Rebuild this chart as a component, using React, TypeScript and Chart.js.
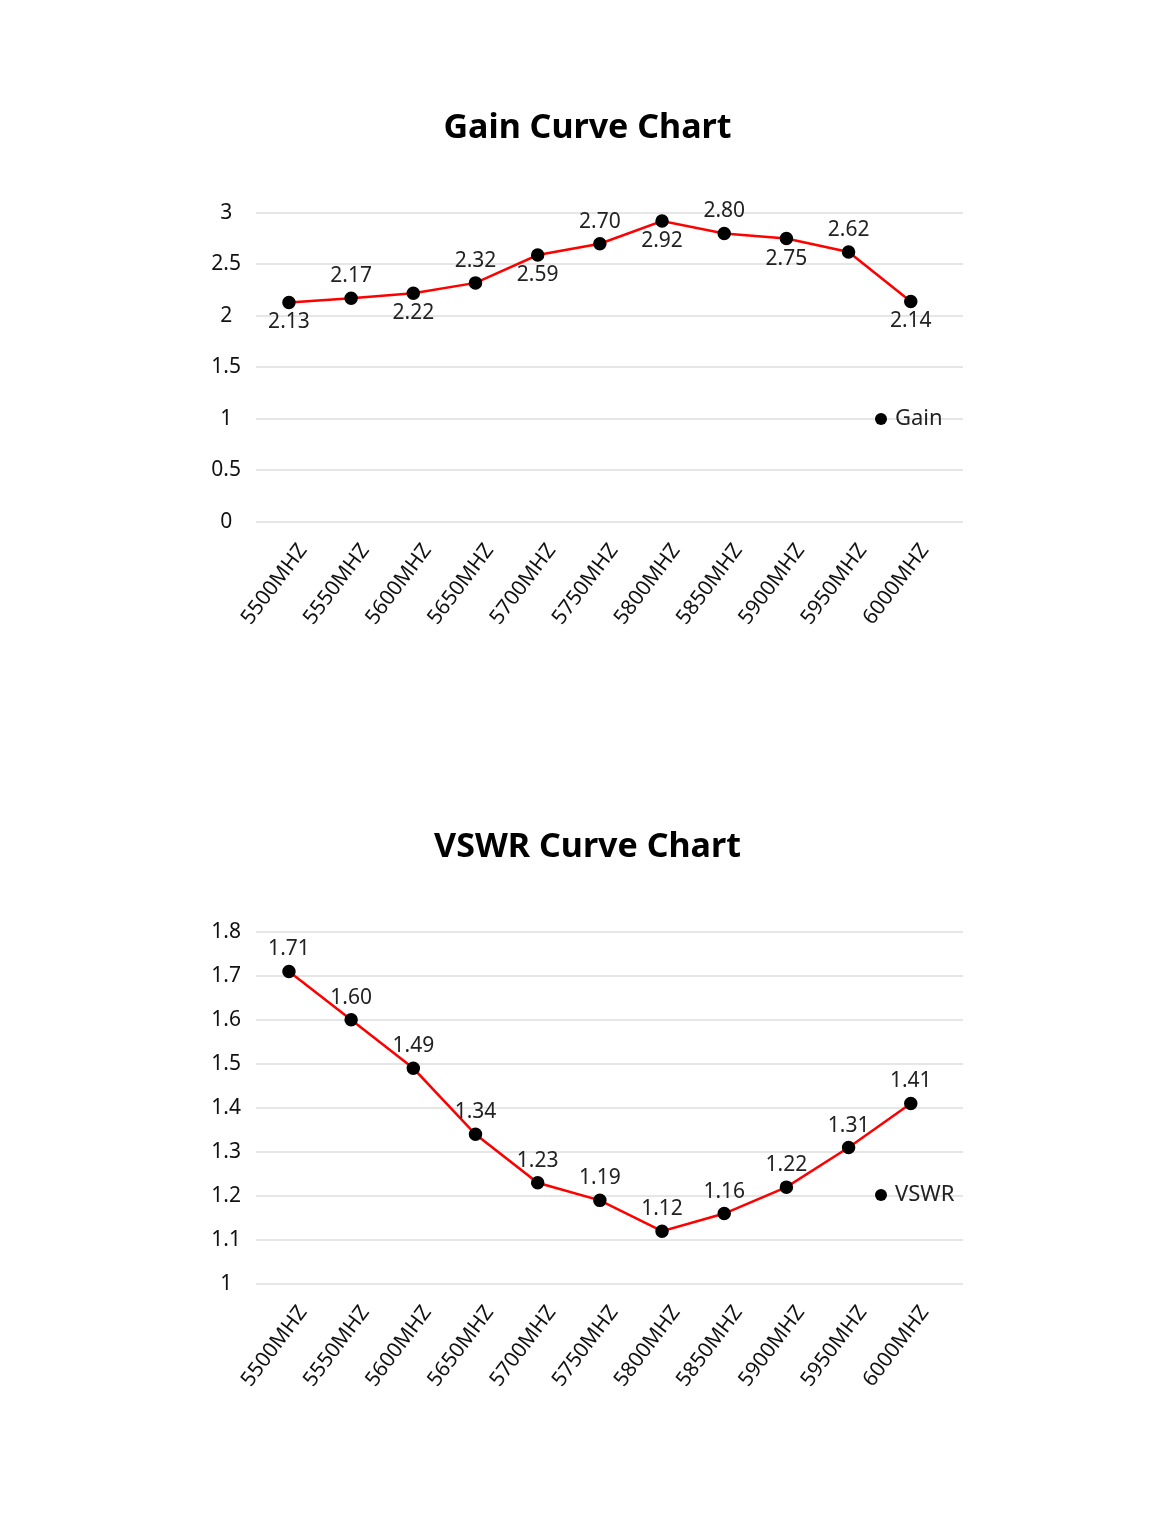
import React, { useEffect, useRef } from "react";
import Chart from "chart.js/auto";

const frequencies = [
  "5500MHZ", "5550MHZ", "5600MHZ", "5650MHZ", "5700MHZ", "5750MHZ",
  "5800MHZ", "5850MHZ", "5900MHZ", "5950MHZ", "6000MHZ",
];
const gainValues = [2.13, 2.17, 2.22, 2.32, 2.59, 2.7, 2.92, 2.8, 2.75, 2.62, 2.14];
const vswrValues = [1.71, 1.6, 1.49, 1.34, 1.23, 1.19, 1.12, 1.16, 1.22, 1.31, 1.41];
// label side per point: 1 = above, -1 = below
const gainLabelSide = [-1, 1, -1, 1, -1, 1, -1, 1, -1, 1, -1];
const vswrLabelSide = [1, 1, 1, 1, 1, 1, 1, 1, 1, 1, 1];

Chart.defaults.font.family = "'Noto Sans', sans-serif";

type Props = {
  title: string;
  seriesName: string;
  values: number[];
  sides: number[];
  yMin: number;
  yMax: number;
  yStep: number;
  legendFromBottom: number;
  top: number;
  height: number;
};

const CurveChart = (p: Props) => {
  const chartRef = useRef<HTMLCanvasElement | null>(null);

  useEffect(() => {
    if (!chartRef.current) return;
    const ctx = chartRef.current.getContext("2d");
    if (!ctx) return;

    const labelPlugin = {
      id: "pointLabels",
      afterDatasetsDraw(chart: any) {
        const c = chart.ctx;
        const meta = chart.getDatasetMeta(0);
        c.save();
        c.font = "21px 'Noto Sans', sans-serif";
        c.fillStyle = "#222";
        c.textAlign = "center";
        c.textBaseline = "middle";
        meta.data.forEach((pt: any, i: number) => {
          const dy = p.sides[i] > 0 ? -22 : 20;
          c.fillText(p.values[i].toFixed(2), pt.x, pt.y + dy);
        });
        c.restore();
      },
      afterDraw(chart: any) {
        const c = chart.ctx;
        const area = chart.chartArea;
        const x = area.right - 82;
        const y = area.bottom - p.legendFromBottom;
        c.save();
        c.fillStyle = "#000";
        c.beginPath();
        c.arc(x, y, 6, 0, Math.PI * 2);
        c.fill();
        c.font = "22px 'Noto Sans', sans-serif";
        c.fillStyle = "#222";
        c.textAlign = "left";
        c.textBaseline = "middle";
        c.fillText(p.seriesName, x + 14, y);
        c.restore();
      },
    };

    const chart = new Chart(ctx, {
      type: "line",
      data: {
        datasets: [
          {
            label: p.seriesName,
            data: p.values.map((v, i) => ({ x: i, y: v })),
            borderColor: "#ff0000",
            borderWidth: 2.5,
            pointBackgroundColor: "#000",
            pointBorderColor: "#000",
            pointRadius: 5.5,
            tension: 0,
          },
        ],
      },
      options: {
        animation: false,
        responsive: true,
        maintainAspectRatio: false,
        layout: { padding: { left: 212, right: 212, top: 0, bottom: 8 } },
        plugins: {
          legend: { display: false },
          tooltip: { enabled: false },
          title: {
            display: true,
            text: p.title,
            color: "#000",
            font: { size: 34, weight: "bold" },
            padding: { top: 108, bottom: 64 },
          },
        },
        scales: {
          x: {
            type: "linear",
            min: -0.53,
            max: 10.84,
            grid: { display: false },
            border: { display: false },
            afterFit: (scale: any) => {
              scale.height = 120;
            },
            ticks: {
              stepSize: 1,
              includeBounds: false,
              autoSkip: false,
              maxRotation: 53,
              minRotation: 53,
              labelOffset: 14,
              padding: 9,
              color: "#111",
              font: { size: 21 },
              callback: (v: any) =>
                Number.isInteger(v) ? frequencies[v] ?? "" : "",
            },
          },
          y: {
            min: p.yMin,
            max: p.yMax,
            grid: { color: "#e6e6e6", lineWidth: 2, drawTicks: false },
            border: { display: false },
            afterFit: (scale: any) => {
              scale.width = 44;
            },
            ticks: {
              stepSize: p.yStep,
              crossAlign: "center",
              padding: 15,
              color: "#111",
              font: { size: 21 },
              callback: (v: any) => String(Number(Number(v).toFixed(2))),
            },
          },
        },
      },
      plugins: [labelPlugin],
    });

    return () => {
      chart.destroy();
    };
  }, []);

  return (
    <div
      style={{
        position: "absolute",
        left: 0,
        top: p.top,
        width: 1175,
        height: p.height,
      }}
    >
      <canvas ref={chartRef} />
    </div>
  );
};

export default function App() {
  return (
    <div
      style={{
        position: "absolute",
        left: 0,
        top: 0,
        width: 1175,
        height: 1536,
        background: "#fff",
      }}
    >
      <CurveChart
        title="Gain Curve Chart"
        seriesName="Gain"
        values={gainValues}
        sides={gainLabelSide}
        yMin={0}
        yMax={3}
        yStep={0.5}
        legendFromBottom={103}
        top={0}
        height={650}
      />
      <CurveChart
        title="VSWR Curve Chart"
        seriesName="VSWR"
        values={vswrValues}
        sides={vswrLabelSide}
        yMin={1}
        yMax={1.8}
        yStep={0.1}
        legendFromBottom={89}
        top={719}
        height={693}
      />
    </div>
  );
}
